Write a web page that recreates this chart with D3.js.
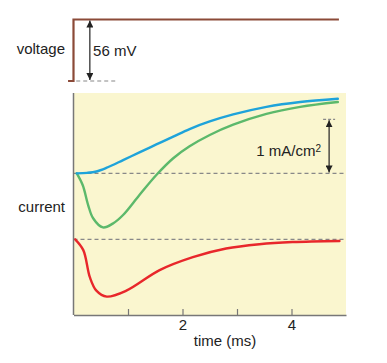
<!DOCTYPE html>
<html>
<head>
<meta charset="utf-8">
<script src="https://cdn.jsdelivr.net/npm/d3@7"></script>
<style>
  body { margin: 0; background: #fff; }
  text { font-family: "Liberation Sans", Arial, sans-serif; fill: #222; }
</style>
</head>
<body>
<div id="chart"></div>
<script>
// voltage clamp step (mV)
const stepTime = [-0.1, 0, 0, 4.87];
const stepVolt = [0, 0, 56, 56];

// currents (mA/cm^2)
const blueTime = [0.06, 0.25, 0.42, 0.6, 0.91, 1.21, 1.52, 1.83, 2.13, 2.5, 2.93, 3.54, 4.16, 4.85];
const blueVals = [0, 0.01, 0.035, 0.1, 0.245, 0.39, 0.535, 0.68, 0.82, 0.96, 1.09, 1.23, 1.32, 1.38];

const greenTime = [0.06, 0.17, 0.27, 0.36, 0.54, 0.72, 0.91, 1.21, 1.52, 1.83, 2.13, 2.5, 2.93, 3.54, 4.16, 4.85];
const greenVals = [0, -0.22, -0.59, -0.83, -1.0, -0.93, -0.77, -0.4, -0.03, 0.28, 0.5, 0.71, 0.9, 1.1, 1.23, 1.32];

const redTime = [0.03, 0.18, 0.3, 0.42, 0.61, 0.97, 1.58, 2.19, 2.8, 3.41, 4.02, 4.88];
const redVals = [0, -0.2, -0.7, -0.95, -1.06, -0.95, -0.57, -0.33, -0.17, -0.09, -0.05, -0.03];
const redOffset = -1.22; // red trace drawn below the others

const xTicks = [1, 2, 3, 4];
const xLabels = { 2: "2", 4: "4" };

const W = 387, H = 363;
const svg = d3.select("#chart").append("svg").attr("width", W).attr("height", H);

const x = d3.scaleLinear().domain([0, 5]).range([73.5, 346]);
const yV = d3.scaleLinear().domain([0, 56]).range([81, 19.5]);
const yI = d3.scaleLinear().domain([-2.62, 1.487]).range([315, 93]);

// markers
const defs = svg.append("defs");
defs.append("marker").attr("id", "ah")
  .attr("viewBox", "0 0 10 10").attr("refX", 10).attr("refY", 5)
  .attr("markerWidth", 7).attr("markerHeight", 7)
  .attr("markerUnits", "userSpaceOnUse")
  .attr("orient", "auto-start-reverse")
  .append("path").attr("d", "M0,0L10,5L0,10Z").attr("fill", "#222");

// panel
svg.append("rect")
  .attr("x", x(0)).attr("y", yI(1.487))
  .attr("width", x(5) - x(0)).attr("height", yI(-2.62) - yI(1.487))
  .attr("fill", "#faf6cf");

// voltage trace
const vLine = d3.line().x((d, i) => x(stepTime[i])).y(d => yV(d));
svg.append("path").datum(stepVolt)
  .attr("d", vLine).attr("fill", "none")
  .attr("stroke", "#8b4a38").attr("stroke-width", 2.2);

svg.append("line")
  .attr("x1", x(0.05)).attr("x2", x(0.78))
  .attr("y1", yV(0)).attr("y2", yV(0))
  .attr("stroke", "#888").attr("stroke-width", 1.2).attr("stroke-dasharray", "4,3");

svg.append("line")
  .attr("x1", x(0.3)).attr("x2", x(0.3))
  .attr("y1", yV(0) - 1).attr("y2", yV(56) + 1)
  .attr("stroke", "#222").attr("stroke-width", 1.2)
  .attr("marker-start", "url(#ah)").attr("marker-end", "url(#ah)");

svg.append("text").attr("x", x(0.36)).attr("y", 51)
  .attr("dy", "0.35em").attr("font-size", 15).text("56 mV");
svg.append("text").attr("x", 65).attr("y", 49)
  .attr("dy", "0.35em").attr("text-anchor", "end").attr("font-size", 15).text("voltage");

// zero lines
[0, redOffset].forEach(v => {
  svg.append("line")
    .attr("x1", x(0)).attr("x2", x(5))
    .attr("y1", yI(v)).attr("y2", yI(v))
    .attr("stroke", "#888").attr("stroke-width", 1.2).attr("stroke-dasharray", "4,3");
});

// current traces
function trace(times, vals, off, color) {
  const line = d3.line()
    .x((d, i) => x(times[i]))
    .y(d => yI(d + off))
    .curve(d3.curveCatmullRom.alpha(0.5));
  svg.append("path").datum(vals)
    .attr("d", line).attr("fill", "none")
    .attr("stroke", color).attr("stroke-width", 2.4)
    .attr("stroke-linecap", "round");
}
trace(greenTime, greenVals, 0, "#5cb96b");
trace(blueTime, blueVals, 0, "#1ea3da");
trace(redTime, redVals, redOffset, "#e8272b");

// scale bar 1 mA/cm2
const sbT = 4.69;
svg.append("line")
  .attr("x1", x(sbT) - 6).attr("x2", x(sbT) + 6)
  .attr("y1", yI(1)).attr("y2", yI(1))
  .attr("stroke", "#888").attr("stroke-width", 1.2).attr("stroke-dasharray", "3,2");
svg.append("line")
  .attr("x1", x(sbT)).attr("x2", x(sbT))
  .attr("y1", yI(1) + 1).attr("y2", yI(0) - 1)
  .attr("stroke", "#222").attr("stroke-width", 1.2)
  .attr("marker-start", "url(#ah)").attr("marker-end", "url(#ah)");
const sb = svg.append("text").attr("x", 321).attr("y", 151)
  .attr("dy", "0.35em").attr("text-anchor", "end").attr("font-size", 15);
sb.append("tspan").text("1 mA/cm");
sb.append("tspan").attr("dy", "-0.45em").attr("font-size", 10).text("2");

svg.append("text").attr("x", 65).attr("y", 207)
  .attr("dy", "0.35em").attr("text-anchor", "end").attr("font-size", 15).text("current");

// axes
const xAxis = d3.axisBottom(x).tickValues(xTicks)
  .tickSizeInner(-6).tickSizeOuter(0).tickPadding(4)
  .tickFormat(d => xLabels[d] || "");
const gx = svg.append("g").attr("transform", `translate(0,${yI(-2.62)})`).call(xAxis);
gx.select(".domain").attr("stroke", "#777").attr("stroke-width", 1.5);
gx.selectAll(".tick line").attr("stroke", "#777").attr("stroke-width", 1.2);
gx.selectAll(".tick text").attr("font-size", 15).attr("fill", "#222")
  .attr("font-family", "Liberation Sans, Arial, sans-serif");

svg.append("line")
  .attr("x1", x(0)).attr("x2", x(0))
  .attr("y1", yI(1.487)).attr("y2", yI(-2.62))
  .attr("stroke", "#777").attr("stroke-width", 1.5);

svg.append("text").attr("x", x(2.78)).attr("y", 341)
  .attr("dy", "0.35em").attr("text-anchor", "middle").attr("font-size", 15).text("time (ms)");
</script>
</body>
</html>
